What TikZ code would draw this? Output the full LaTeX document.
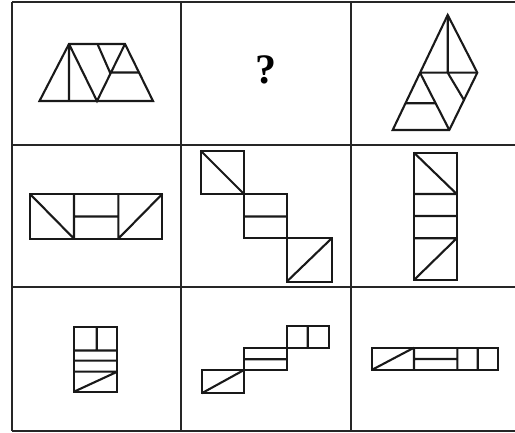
\documentclass[tikz,border=0pt]{standalone}
\usepackage{fontspec}
\setmainfont{Liberation Serif}
\usetikzlibrary{positioning}

\begin{document}
\begin{tikzpicture}[x=1pt, y=-1pt, line join=miter,
    grid/.style={line width=2.9pt, draw=black!85},
    fig/.style={line width=2.1pt, draw=black!90}]
    \useasboundingbox (0,0) rectangle (515,433);

    % table
    \draw[grid] (12,2) -- (515,2)
                (12,145) -- (515,145)
                (12,287) -- (515,287)
                (12,431) -- (515,431);
    \draw[grid] (12,2) -- (12,431)
                (181,2) -- (181,431)
                (351,2) -- (351,431);

    % row 1
    \draw[fig] (39.5,101) -- (153,101) -- (125,44) -- (69,44) -- cycle;
    \draw[fig] (69,44) -- (69,101)
               (69,44) -- (97,101) -- (125,44)
               (97.5,44) -- (110,72.5) -- (139,72.5);
    \node[font=\bfseries\fontsize{42}{42}\selectfont] (query) at (266,70) {?};
    \draw[fig] (447.7,15) -- (477.3,72.7) -- (449.3,130) -- (392.7,130) -- cycle;
    \draw[fig] (447.7,15) -- (447.7,72.7)
               (420,72.7) -- (477.3,72.7)
               (420,72.7) -- (449.3,130)
               (447.7,72.7) -- (464,100)
               (405.6,103.3) -- (436.2,103.3);

    % row 2
    \draw[fig] (30,194) rectangle (162.3,238.7);
    \draw[fig] (74,194) -- (74,238.7)
               (118.3,194) -- (118.3,238.7)
               (74,216.5) -- (118.3,216.5)
               (30,194) -- (74,238.7)
               (118.3,238.7) -- (162.3,194);
    \draw[fig] (200.7,150.7) rectangle (244,194)
               (244,194) rectangle (286.7,238.3)
               (286.7,238.3) rectangle (331.7,281.7);
    \draw[fig] (200.7,150.7) -- (244,194)
               (244,216.5) -- (286.7,216.5)
               (286.7,281.7) -- (331.7,238.3);
    \draw[fig] (414,152.7) rectangle (456.7,280);
    \draw[fig] (414,194) -- (456.7,194)
               (414,216) -- (456.7,216)
               (414,238.3) -- (456.7,238.3)
               (414,152.7) -- (456.7,194)
               (414,280) -- (456.7,238.3);

    % row 3
    \draw[fig] (74,326.7) rectangle (117.3,391.7);
    \draw[fig] (96.7,326.7) -- (96.7,350.5)
               (74,350.5) -- (117.3,350.5)
               (74,360.7) -- (117.3,360.7)
               (74,371.7) -- (117.3,371.7)
               (74,391.7) -- (117.3,371.7);
    \draw[fig] (201.7,370) rectangle (244,393.3)
               (244,348.3) rectangle (286.7,370)
               (286.7,325.7) rectangle (329.3,348.3);
    \draw[fig] (201.7,393.3) -- (244,370)
               (244,359.3) -- (286.7,359.3)
               (307.7,325.7) -- (307.7,348.3);
    \draw[fig] (371.7,347.7) rectangle (498.3,370);
    \draw[fig] (414,347.7) -- (414,370)
               (457.3,347.7) -- (457.3,370)
               (477.7,347.7) -- (477.7,370)
               (414,359) -- (457.3,359)
               (371.7,370) -- (414,347.7);
\end{tikzpicture}
\end{document}
